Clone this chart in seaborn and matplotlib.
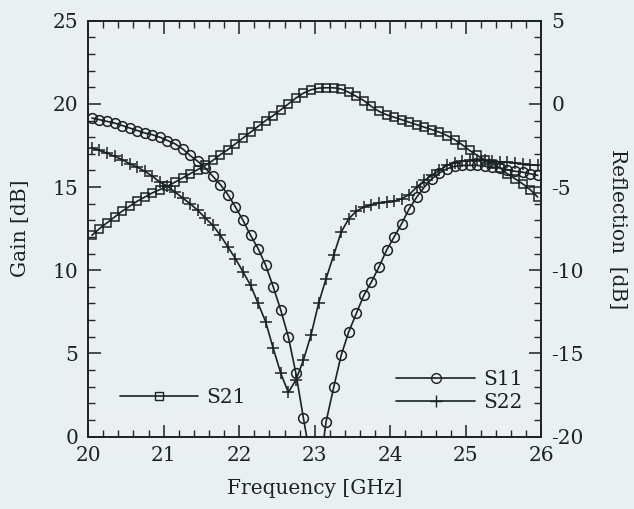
import numpy as np
import pandas as pd
import matplotlib
matplotlib.use("Agg")
import matplotlib.pyplot as plt
import seaborn as sns
from matplotlib.ticker import MultipleLocator
from matplotlib.lines import Line2D

freq = [20.05, 20.15, 20.25, 20.35, 20.45, 20.55, 20.65, 20.75, 20.85, 20.95,
        21.05, 21.15, 21.25, 21.35, 21.45, 21.55, 21.65, 21.75, 21.85, 21.95,
        22.05, 22.15, 22.25, 22.35, 22.45, 22.55, 22.65, 22.75, 22.85, 22.95,
        23.05, 23.15, 23.25, 23.35, 23.45, 23.55, 23.65, 23.75, 23.85, 23.95,
        24.05, 24.15, 24.25, 24.35, 24.45, 24.55, 24.65, 24.75, 24.85, 24.95,
        25.05, 25.15, 25.25, 25.35, 25.45, 25.55, 25.65, 25.75, 25.85, 25.95]

s21_gain = [12.1, 12.5, 12.85, 13.2, 13.55, 13.85, 14.15, 14.4, 14.65, 14.85,
            15.05, 15.3, 15.55, 15.8, 16.05, 16.3, 16.6, 16.95, 17.25, 17.6,
            17.95, 18.3, 18.65, 19.0, 19.3, 19.65, 20.0, 20.35, 20.65, 20.85,
            20.95, 20.97, 20.97, 20.9, 20.7, 20.45, 20.2, 19.85, 19.55, 19.35,
            19.2, 19.05, 18.9, 18.75, 18.6, 18.45, 18.3, 18.1, 17.85, 17.55,
            17.2, 16.9, 16.65, 16.4, 16.15, 15.8, 15.5, 15.2, 14.85, 14.4]

s11_refl = [-0.85, -0.95, -1.05, -1.15, -1.3, -1.45, -1.6, -1.75, -1.85, -2.0,
            -2.2, -2.4, -2.7, -3.1, -3.45, -3.85, -4.35, -4.85, -5.45, -6.2,
            -7.0, -7.9, -8.7, -9.7, -11.0, -12.4, -14.0, -16.2, -18.9, -21.5,
            -22.5, -19.1, -17.05, -15.1, -13.7, -12.6, -11.5, -10.7, -9.8, -8.8,
            -8.0, -7.2, -6.3, -5.6, -5.0, -4.5, -4.15, -3.9, -3.75, -3.7,
            -3.7, -3.7, -3.75, -3.8, -3.85, -3.95, -4.05, -4.1, -4.2, -4.3]

s22_refl = [-2.65, -2.8, -2.95, -3.15, -3.35, -3.6, -3.8, -4.05, -4.35, -4.7,
            -4.95, -5.3, -5.65, -6.0, -6.4, -6.85, -7.3, -7.9, -8.6, -9.3,
            -10.1, -10.9, -12.0, -13.1, -14.7, -16.2, -17.35, -16.6, -15.4, -13.9,
            -12.0, -10.5, -9.1, -7.7, -6.9, -6.45, -6.2, -6.05, -5.95, -5.9,
            -5.85, -5.7, -5.45, -5.0, -4.6, -4.3, -4.0, -3.7, -3.55, -3.45,
            -3.4, -3.4, -3.4, -3.45, -3.5, -3.5, -3.55, -3.6, -3.65, -3.7]

xticks = [20, 21, 22, 23, 24, 25, 26]
gain_ticks = [0, 5, 10, 15, 20, 25]
refl_ticks = [-20, -15, -10, -5, 0, 5]

sns.set_style("ticks")
plt.rcParams['font.family'] = ['DejaVu Serif', 'Liberation Serif']
plt.rcParams['axes.unicode_minus'] = False

bg = '#eaf0f2'
ink = '#1c2224'
fig = plt.figure(figsize=(6.34, 5.09), dpi=100, facecolor=bg)
ax = fig.add_axes([0.139, 0.1424, 0.715, 0.8168])
ax.set_facecolor(bg)
ax2 = ax.twinx()

df21 = pd.DataFrame({"f": freq, "v": s21_gain})
df11 = pd.DataFrame({"f": freq, "v": s11_refl})
df22 = pd.DataFrame({"f": freq, "v": s22_refl})

sns.lineplot(data=df21, x="f", y="v", ax=ax, color=ink, lw=1.2, marker='s',
             markersize=6.3, markerfacecolor='none', markeredgecolor=ink,
             markeredgewidth=1.1, label='S21', legend=False)
sns.lineplot(data=df11, x="f", y="v", ax=ax2, color=ink, lw=1.2, marker='o',
             markersize=7, markerfacecolor='none', markeredgecolor=ink,
             markeredgewidth=1.1, label='S11', legend=False)
sns.lineplot(data=df22, x="f", y="v", ax=ax2, color=ink, lw=1.2, marker='+',
             markersize=8.5, markeredgecolor=ink, markeredgewidth=1.1,
             label='S22', legend=False)

ax.set_xlim(20, 26)
ax.set_ylim(0, 25)
ax2.set_ylim(-20, 5)
ax.set_xticks(xticks)
ax.set_yticks(gain_ticks)
ax2.set_yticks(refl_ticks)
ax.xaxis.set_minor_locator(MultipleLocator(0.2))
ax.yaxis.set_minor_locator(MultipleLocator(1))
ax2.yaxis.set_minor_locator(MultipleLocator(1))

fs = 14.5
ax.tick_params(axis='both', which='major', direction='in', length=9, width=1.1,
               labelsize=fs, colors=ink, top=True, pad=7)
ax.tick_params(axis='both', which='minor', direction='in', length=5, width=1.0,
               top=True)
ax.tick_params(axis='y', right=False, which='both')
ax2.tick_params(axis='y', which='major', direction='in', length=9, width=1.1,
                labelsize=fs, colors=ink, pad=7)
ax2.tick_params(axis='y', which='minor', direction='in', length=5, width=1.0)
for a in (ax, ax2):
    for s in a.spines.values():
        s.set_color(ink)
        s.set_linewidth(1.2)

ax.set_xlabel("Frequency [GHz]", fontsize=fs, color=ink, labelpad=10)
ax.set_ylabel("Gain [dB]", fontsize=fs, color=ink, labelpad=16)
ax2.set_ylabel("Reflection  [dB]", fontsize=fs, color=ink, rotation=270,
               labelpad=31)

h21 = Line2D([], [], color=ink, lw=1.2, marker='s', markersize=6.3,
             markerfacecolor='none', markeredgecolor=ink)
h11 = Line2D([], [], color=ink, lw=1.2, marker='o', markersize=7,
             markerfacecolor='none', markeredgecolor=ink)
h22 = Line2D([], [], color=ink, lw=1.2, marker='+', markersize=8.5,
             markeredgecolor=ink)
leg1 = ax.legend([h21], ['S21'], loc='center left', bbox_to_anchor=(0.07, 0.093),
                 frameon=False, fontsize=fs, handlelength=3.9, handletextpad=0.4,
                 borderpad=0, borderaxespad=0)
leg2 = ax2.legend([h11, h22], ['S11', 'S22'], loc='center left',
                  bbox_to_anchor=(0.68, 0.11), frameon=False, fontsize=fs,
                  handlelength=3.9, handletextpad=0.4, labelspacing=0.2,
                  borderpad=0, borderaxespad=0)
for leg in (leg1, leg2):
    for t in leg.get_texts():
        t.set_color(ink)

fig.savefig("out.png", dpi=100, facecolor=bg)
